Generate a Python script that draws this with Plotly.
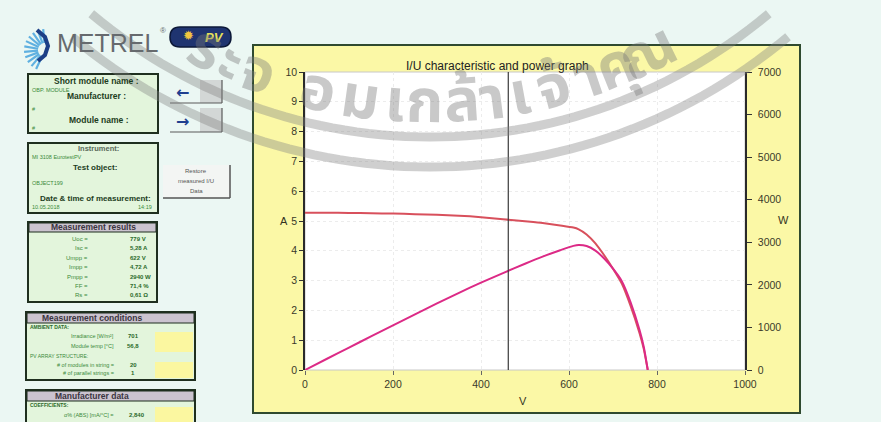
import math
import plotly.graph_objects as go

# ---- measured I/U sweep (voltage V, current A) and the power curve (W) ----
voltage = [0, 50, 100, 150, 200, 250, 300, 350, 400, 450, 500, 540, 580,
           610, 622, 640, 660, 680, 700, 720, 740, 760, 770, 779]
current = [5.28, 5.28, 5.27, 5.26, 5.25, 5.23, 5.21, 5.18, 5.13, 5.06, 4.99,
           4.93, 4.85, 4.78, 4.72, 4.55, 4.25, 3.85, 3.40, 2.90, 2.15, 1.25,
           0.70, 0.0]
power = [0, 264, 527, 789, 1050, 1308, 1563, 1813, 2052, 2277, 2495, 2662,
         2813, 2916, 2936, 2912, 2805, 2618, 2380, 2088, 1591, 950, 539, 0]
cursor_voltage = 462

# ---- report panel texts ----
result_labels = ["Uoc =", "Isc =", "Umpp =", "Impp =", "Pmpp =", "FF =", "Rs ="]
result_values = ["779 V", "5,28 A", "622 V", "4,72 A", "2940 W", "71,4 %", "0,61 Ω"]
condition_labels = ["Irradiance [W/m²]", "Module temp [°C]",
                    "# of modules in string =", "# of parallel strings ="]
condition_values = ["701", "56,8", "20", "1"]
coefficient_labels = ["α% (ABS) [mA/°C] ="]
coefficient_values = ["2,840"]

# plot area in page pixels
PL, PR, PT, PB = 305, 745, 72, 370
W, H = 881, 422


def X(px):
    return (px - PL) / (PR - PL)


def Y(py):
    return (PB - py) / (PB - PT)


shapes = []
annotations = []
FONT = "Liberation Sans, Arial, sans-serif"


def rect(x0, y0, x1, y1, fill="rgba(0,0,0,0)", line=None, lw=0, layer="below"):
    shapes.append(dict(type="rect", xref="paper", yref="paper",
                       x0=X(x0), x1=X(x1), y0=Y(y1), y1=Y(y0),
                       fillcolor=fill, layer=layer,
                       line=dict(color=line or "rgba(0,0,0,0)", width=lw)))


def seg(x0, y0, x1, y1, color, lw=1, layer="below"):
    shapes.append(dict(type="line", xref="paper", yref="paper",
                       x0=X(x0), x1=X(x1), y0=Y(y0), y1=Y(y1), layer=layer,
                       line=dict(color=color, width=lw)))


def path(pts, color, lw, fill=None, closed=False, layer="below"):
    d = "M " + " L ".join(f"{X(a):.5f},{Y(b):.5f}" for a, b in pts)
    if closed:
        d += " Z"
    shapes.append(dict(type="path", xref="paper", yref="paper", path=d,
                       layer=layer, fillcolor=fill or "rgba(0,0,0,0)",
                       line=dict(color=color, width=lw)))


def text(px, py, s, size=7, color="#3a8a3a", anchor="left", bold=False,
         family=FONT, angle=0):
    annotations.append(dict(xref="paper", yref="paper", x=X(px), y=Y(py),
                            text=f"<b>{s}</b>" if bold else s,
                            showarrow=False, xanchor=anchor, yanchor="middle",
                            textangle=angle,
                            font=dict(size=size, color=color, family=family)))


# ---- chart frame ----
rect(253, 45, 800, 413, fill="#fbf8a6", line="#2f4a2f", lw=2)
rect(PL, PT, PR, PB, fill="#ffffff", line="#c8c8c8", lw=1)
text(497, 66, "I/U characteristic and power graph", size=12, color="#222222",
     anchor="center")
text(284, 221, "A", size=11, color="#333322", anchor="center")
text(783, 220, "W", size=11, color="#333322", anchor="center")
text(523, 401, "V", size=11, color="#333322", anchor="center")

# ---- METREL logo ----
cx, cy = 45, 50
for k in range(11):
    a = math.radians(95 + k * 15)
    path([(cx + 7 * math.cos(a), cy - 7 * math.sin(a)),
          (cx + 21 * math.cos(a), cy - 21 * math.sin(a))], "#5fb0e0", 2.2)
path([(37, 30), (45, 37), (48, 46), (45, 55), (38, 61)], "#1d3f86", 4)
text(108, 43, "METREL", size=25, color="#666a6e", anchor="center")
text(163, 31, "®", size=8, color="#666a6e", anchor="center")
shapes.append(dict(type="path", xref="paper", yref="paper", layer="below",
                   path=(f"M {X(180)},{Y(27)} L {X(221)},{Y(27)} "
                         f"Q {X(231)},{Y(27)} {X(231)},{Y(37)} "
                         f"Q {X(231)},{Y(47)} {X(221)},{Y(47)} "
                         f"L {X(180)},{Y(47)} Q {X(170)},{Y(47)} {X(170)},{Y(37)} "
                         f"Q {X(170)},{Y(27)} {X(180)},{Y(27)} Z"),
                   fillcolor="#1f3470", line=dict(color="#0c1838", width=1.5)))
text(188, 36, "✹", size=13, color="#f2c640", anchor="center",
     family="DejaVu Sans")
text(214, 37, "<i>PV</i>", size=13, color="#e6e25a", anchor="center", bold=True)

# ---- module / manufacturer box ----
rect(28, 74, 158, 133, fill="#e3f5dc", line="#1f2f1f", lw=2)
text(96, 81, "Short module name :", size=8.5, color="#1d3d1d", anchor="center", bold=True)
text(30, 90, "OBP. MODULE", size=5.5)
text(96, 96, "Manufacturer :", size=8.5, color="#1d3d1d", anchor="center", bold=True)
text(30, 109, "#", size=5.5)
text(99, 120, "Module name :", size=8.5, color="#1d3d1d", anchor="center", bold=True)
text(30, 128, "#", size=5.5)

# browse buttons
for y0, y1, arrow in [(80, 103, "←"), (108, 132, "→")]:
    rect(200, y0, 222, y1, fill="#d3d7d6")
    seg(170, y1, 222, y1, "#5a5a5a", 1.2)
    seg(222, y0, 222, y1, "#5a5a5a", 1.2)
    text(182, (y0 + y1) / 2 + 1, arrow, size=16, color="#1f3f8f",
         anchor="center", bold=True, family="DejaVu Sans")

# ---- instrument box ----
rect(28, 143, 158, 213, fill="#e3f5dc", line="#1f2f1f", lw=2)
text(98, 148, "Instrument:", size=7.5, color="#5a6a5a", anchor="center", bold=True)
text(30, 157, "MI 3108 EurotestPV", size=5.5)
text(95, 167, "Test object:", size=8, color="#1d3d1d", anchor="center", bold=True)
text(30, 183, "OBJECT199", size=5.5)
text(95, 198, "Date & time of measurement:", size=8, color="#1d3d1d",
     anchor="center", bold=True)
text(30, 207, "10.05.2018", size=5.5)
text(145, 207, "14:19", size=5.5, anchor="center")

# restore button
rect(163, 165, 230, 198, fill="#f3f5f3")
seg(230, 165, 230, 198, "#555555", 1.5)
seg(163, 198, 230, 198, "#555555", 1.5)
text(196, 171, "Restore", size=6, color="#555555", anchor="center")
text(196, 181, "measured I/U", size=6, color="#555555", anchor="center")
text(196, 191, "Data", size=6, color="#555555", anchor="center")

# ---- measurement results ----
rect(28, 222, 157, 302, fill="#e3f5dc", line="#1f2f1f", lw=2)
rect(29, 223, 156, 232, fill="#cbc3cf", line="#1f2f1f", lw=1)
text(93, 227, "Measurement results", size=8.5, color="#3a3440", anchor="center", bold=True)
for i, (lab, val) in enumerate(zip(result_labels, result_values)):
    yy = 239 + i * 9.4
    text(90, yy, lab, size=6, anchor="right")
    text(128, yy, val, size=6, color="#2a6a2a", bold=True)

# ---- measurement conditions ----
rect(26, 312, 195, 380, fill="#e3f5dc", line="#1f2f1f", lw=2)
rect(27, 313, 194, 323, fill="#cbc3cf", line="#1f2f1f", lw=1)
text(92, 318, "Measurement conditions", size=8.5, color="#3a3440", anchor="center", bold=True)
rect(155, 332, 193, 352, fill="#fbf7a0")
rect(155, 362, 193, 378, fill="#fbf7a0")
text(28, 327, "AMBIENT DATA:", size=5, color="#2a6a2a", bold=True)
text(28, 356, "PV ARRAY STRUCTURE:", size=5, color="#3a8a3a")
for lab, val, yy in zip(condition_labels, condition_values, [336, 346, 365, 373]):
    text(116, yy, lab, size=5.5, anchor="right")
    text(133, yy, val, size=6, color="#2a6a2a", anchor="center", bold=True)

# ---- manufacturer data ----
rect(26, 390, 195, 430, fill="#e3f5dc", line="#1f2f1f", lw=2)
rect(27, 391, 194, 401, fill="#cbc3cf", line="#1f2f1f", lw=1)
text(92, 396, "Manufacturer data", size=8.5, color="#3a3440", anchor="center", bold=True)
rect(155, 407, 193, 422, fill="#fbf7a0")
text(28, 405, "COEFFICIENTS:", size=5, color="#2a6a2a", bold=True)
for lab, val in zip(coefficient_labels, coefficient_values):
    text(116, 415, lab, size=5.5, anchor="right")
    text(137, 415, val, size=6, color="#2a6a2a", anchor="center", bold=True)

# ---- cursor line ----
shapes.append(dict(type="line", xref="x", yref="paper", x0=cursor_voltage,
                   x1=cursor_voltage, y0=0, y1=1, layer="above",
                   line=dict(color="#3a3a3a", width=1.2)))

# ---- watermark seal ----
sx, sy = 430, -390
for r in (527, 557):
    pts = []
    for k in range(61):
        a = math.radians(-40 + k * 80 / 60)
        pts.append((sx + r * math.sin(a), sy + r * math.cos(a)))
    path(pts, "rgba(130,130,130,0.38)", 9, layer="above")
seal_text = [("ร", 205), ("ะ", 230), ("จ", 258), ("อ", 318), ("ม", 360),
             ("เ", 395), ("ก", 424), ("ล้", 462), ("า", 492), ("เ", 520),
             ("จ้", 554), ("า", 588), ("คุ", 616), ("ณ", 648)]
for ch, px in seal_text:
    th = math.asin((px - sx) / 494)
    py = sy + 494 * math.cos(th)
    text(px, py, ch, size=60, color="rgba(120,120,120,0.4)", anchor="center",
         family="Noto Sans Thai, Loma, Garuda, sans-serif", bold=True,
         angle=-math.degrees(th))

fig = go.Figure()
fig.add_trace(go.Scatter(x=voltage, y=current, mode="lines", name="I",
                         line=dict(color="#d8505c", width=2, shape="spline",
                                   smoothing=0.6)))
fig.add_trace(go.Scatter(x=voltage, y=power, mode="lines", name="P", yaxis="y2",
                         line=dict(color="#dc2a86", width=2, shape="spline",
                                   smoothing=0.6)))

tickfont = dict(size=10.5, color="#3a3a2a", family=FONT)
fig.update_layout(
    width=W, height=H,
    margin=dict(l=PL, r=W - PR, t=PT, b=H - PB, pad=0),
    paper_bgcolor="#ebf7f3", plot_bgcolor="rgba(0,0,0,0)",
    showlegend=False,
    xaxis=dict(range=[0, 1000], dtick=200, ticks="outside", ticklen=4,
               tickcolor="#666", showgrid=True, gridcolor="#ececec",
               griddash="dot", zeroline=False, showline=False,
               tickfont=tickfont),
    yaxis=dict(range=[0, 10], dtick=1, ticks="outside", ticklen=4,
               tickcolor="#333", showgrid=True, gridcolor="#ececec",
               griddash="dot", zeroline=False, showline=True,
               linecolor="#2a2a2a", linewidth=1.5, tickfont=tickfont),
    yaxis2=dict(range=[0, 7000], dtick=1000, overlaying="y", side="right",
                ticks="outside", ticklen=5, tickcolor="#333", showgrid=False,
                zeroline=False, showline=True, linecolor="#2a2a2a",
                linewidth=1.5, tickfont=tickfont, ticklabelstandoff=4),
    shapes=shapes, annotations=annotations,
)
fig.write_html("out.html")
